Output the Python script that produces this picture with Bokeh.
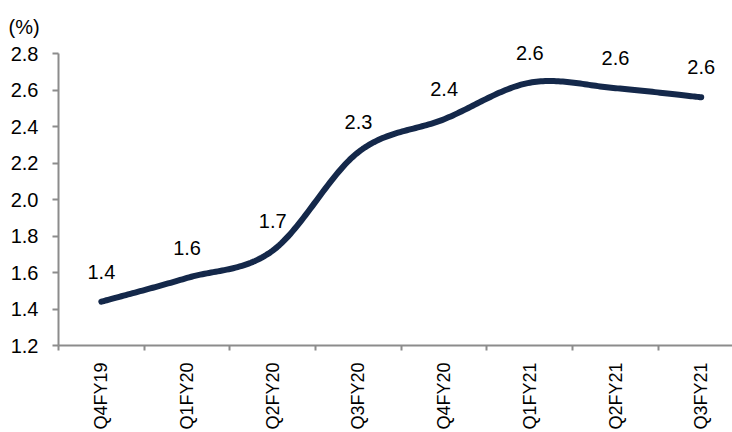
import numpy as np
from bokeh.plotting import figure
from bokeh.models import Range1d, FixedTicker, ColumnDataSource, NumeralTickFormatter
from bokeh.core.properties import value
from bokeh.embed import file_html
from bokeh.resources import INLINE

# Quarterly ratio (%)
quarters = ["Q4FY19", "Q1FY20", "Q2FY20", "Q3FY20", "Q4FY20", "Q1FY21", "Q2FY21", "Q3FY21"]
ratio = [1.44, 1.57, 1.72, 2.26, 2.44, 2.64, 2.61, 2.56]
y_ticks = [1.2, 1.4, 1.6, 1.8, 2.0, 2.2, 2.4, 2.6, 2.8]
unit_label = "(%)"

FONT = "Liberation Sans"
AXIS_GREY = "#8c8c8c"
LINE_NAVY = "#14284a"

# category centres sit halfway between the boundary ticks
xc = np.arange(len(quarters)) + 0.5
yv = np.array(ratio, dtype=float)


def smooth_curve(x, y, steps=40):
    """Cubic Bezier smoothing through every point (spreadsheet-style)."""
    n = len(x)
    px = np.concatenate([[x[0]], x, [x[-1]]])
    py = np.concatenate([[y[0]], y, [y[-1]]])
    t = np.linspace(0, 1, steps)
    xs, ys = [], []
    for i in range(n - 1):
        p0x, p0y = px[i + 1], py[i + 1]
        p3x, p3y = px[i + 2], py[i + 2]
        c1x = p0x + (px[i + 2] - px[i]) / 6
        c1y = p0y + (py[i + 2] - py[i]) / 6
        c2x = p3x - (px[i + 3] - px[i + 1]) / 6
        c2y = p3y - (py[i + 3] - py[i + 1]) / 6
        b0 = (1 - t) ** 3
        b1 = 3 * (1 - t) ** 2 * t
        b2 = 3 * (1 - t) * t ** 2
        b3 = t ** 3
        xs.extend(b0 * p0x + b1 * c1x + b2 * c2x + b3 * p3x)
        ys.extend(b0 * p0y + b1 * c1y + b2 * c2y + b3 * p3y)
    return np.array(xs), np.array(ys)


cx, cy = smooth_curve(xc, yv)

# frame runs from y=36 to y=345 px; 0.2 units per 36.5 px
PX_PER_UNIT = 182.5
y_top = 1.2 + (345 - 36) / PX_PER_UNIT

p = figure(
    width=732, height=432,
    x_range=Range1d(0, 7.865), y_range=Range1d(1.2, y_top),
    output_backend="svg", toolbar_location=None,
    min_border_left=58, min_border_right=0,
    min_border_top=36, min_border_bottom=87,
    title=unit_label,
)
p.outline_line_color = None
p.xgrid.visible = False
p.ygrid.visible = False
p.background_fill_color = "white"
p.border_fill_color = "white"

# unit caption sits above the value axis labels
p.title.text_font = FONT
p.title.text_font_size = "20px"
p.title.text_font_style = "normal"
p.title.text_color = "black"
p.title.align = "left"
p.title.offset = -50
p.title.standoff = -3

# x axis: boundary ticks between quarters, rotated quarter names centred
xa = p.xaxis[0]
xa.ticker = FixedTicker(ticks=list(xc), minor_ticks=list(range(len(quarters) + 1)))
xa.major_label_overrides = {float(c): q for c, q in zip(xc, quarters)}
xa.major_label_orientation = np.pi / 2
xa.major_tick_in = 0
xa.major_tick_out = 0
xa.minor_tick_in = 0
xa.minor_tick_out = 5
xa.minor_tick_line_color = AXIS_GREY
xa.minor_tick_line_width = 2
xa.axis_line_color = AXIS_GREY
xa.axis_line_width = 2
xa.major_label_standoff = 12
xa.major_label_text_font = FONT
xa.major_label_text_font_size = "18px"
xa.major_label_text_color = "black"

ya = p.yaxis[0]
ya.ticker = FixedTicker(ticks=y_ticks, minor_ticks=[])
ya.formatter = NumeralTickFormatter(format="0.0")
ya.bounds = (y_ticks[0], y_ticks[-1])
ya.major_tick_in = 0
ya.major_tick_out = 6
ya.major_tick_line_color = AXIS_GREY
ya.major_tick_line_width = 2
ya.axis_line_color = AXIS_GREY
ya.axis_line_width = 2
ya.major_label_standoff = 14
ya.major_label_text_font = FONT
ya.major_label_text_font_size = "20px"
ya.major_label_text_color = "black"

p.line(cx, cy, line_color=LINE_NAVY, line_width=6, line_cap="round", line_join="round")

labels = ColumnDataSource(dict(x=xc, y=yv, txt=[f"{v:.1f}" for v in ratio]))
p.text(
    x="x", y="y", text="txt", source=labels,
    y_offset=-30, text_align="center", text_baseline="middle",
    text_font=value(FONT), text_font_size="20px", text_color="black",
)

open("out.html", "w").write(file_html(p, INLINE))
